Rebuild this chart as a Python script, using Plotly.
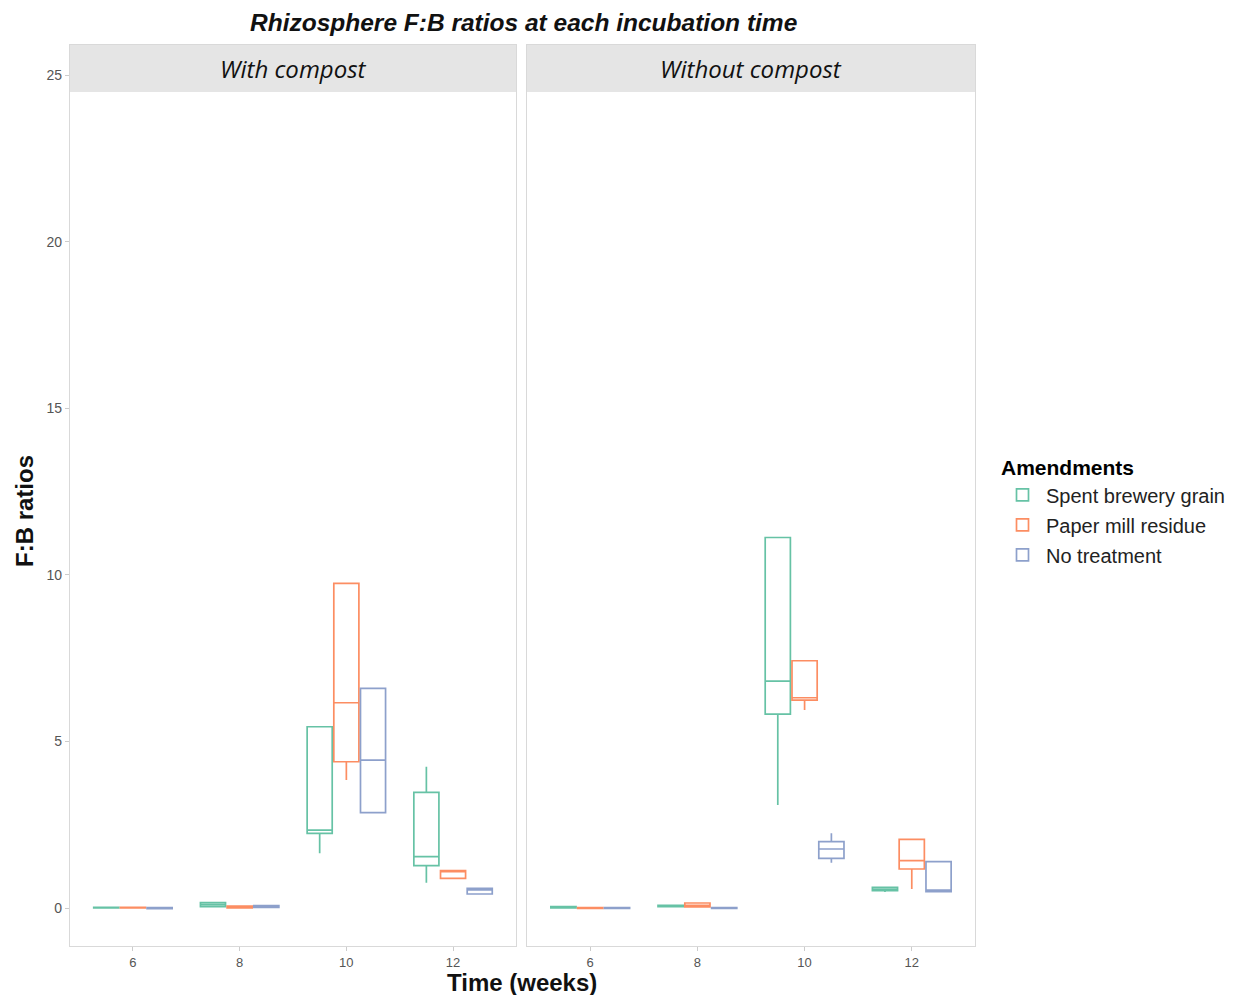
import plotly.graph_objects as go
from plotly.subplots import make_subplots

W, H = 1230, 987
OFF = 8  # page body margin

times = [6, 8, 10, 12]
facets = ["With compost", "Without compost"]
amendments = ["Spent brewery grain", "Paper mill residue", "No treatment"]
colors = ["#66C2A5", "#FC8D62", "#8DA0CB"]

# With compost
wc_sbg_lo = [0.0, 0.04, 1.64, 0.76]
wc_sbg_q1 = [0.0, 0.04, 2.24, 1.27]
wc_sbg_med = [0.01, 0.10, 2.34, 1.54]
wc_sbg_q3 = [0.02, 0.16, 5.44, 3.47]
wc_sbg_hi = [0.02, 0.16, 5.44, 4.24]

wc_pmr_lo = [0.0, 0.0, 3.84, 0.87]
wc_pmr_q1 = [0.0, 0.0, 4.39, 0.89]
wc_pmr_med = [0.01, 0.03, 6.16, 1.09]
wc_pmr_q3 = [0.02, 0.06, 9.74, 1.12]
wc_pmr_hi = [0.02, 0.06, 9.74, 1.12]

wc_nt_lo = [-0.02, 0.02, 2.86, 0.42]
wc_nt_q1 = [-0.02, 0.02, 2.86, 0.42]
wc_nt_med = [0.0, 0.05, 4.44, 0.54]
wc_nt_q3 = [0.01, 0.07, 6.59, 0.59]
wc_nt_hi = [0.01, 0.07, 6.59, 0.59]

# Without compost
nc_sbg_lo = [0.0, 0.04, 3.09, 0.48]
nc_sbg_q1 = [0.0, 0.04, 5.82, 0.52]
nc_sbg_med = [0.02, 0.06, 6.81, 0.56]
nc_sbg_q3 = [0.04, 0.08, 11.12, 0.62]
nc_sbg_hi = [0.04, 0.08, 11.12, 0.62]

nc_pmr_lo = [-0.01, 0.03, 5.94, 0.57]
nc_pmr_q1 = [-0.01, 0.03, 6.24, 1.17]
nc_pmr_med = [0.0, 0.08, 6.31, 1.42]
nc_pmr_q3 = [0.01, 0.15, 7.42, 2.06]
nc_pmr_hi = [0.01, 0.15, 7.42, 2.06]

nc_nt_lo = [-0.01, -0.01, 1.36, 0.49]
nc_nt_q1 = [-0.01, -0.01, 1.49, 0.49]
nc_nt_med = [0.0, 0.0, 1.77, 0.54]
nc_nt_q3 = [0.01, 0.01, 1.99, 1.39]
nc_nt_hi = [0.01, 0.01, 2.24, 1.39]

data = {
    0: [(wc_sbg_lo, wc_sbg_q1, wc_sbg_med, wc_sbg_q3, wc_sbg_hi),
        (wc_pmr_lo, wc_pmr_q1, wc_pmr_med, wc_pmr_q3, wc_pmr_hi),
        (wc_nt_lo, wc_nt_q1, wc_nt_med, wc_nt_q3, wc_nt_hi)],
    1: [(nc_sbg_lo, nc_sbg_q1, nc_sbg_med, nc_sbg_q3, nc_sbg_hi),
        (nc_pmr_lo, nc_pmr_q1, nc_pmr_med, nc_pmr_q3, nc_pmr_hi),
        (nc_nt_lo, nc_nt_q1, nc_nt_med, nc_nt_q3, nc_nt_hi)],
}

y_ticks = [0, 5, 10, 15, 20, 25]
x_ticks = [6, 8, 10, 12]

fig = make_subplots(rows=1, cols=2, shared_yaxes=True)

for f in range(2):
    for a, name in enumerate(amendments):
        lo, q1, med, q3, hi = data[f][a]
        fig.add_trace(go.Box(
            x=times, q1=q1, median=med, q3=q3, lowerfence=lo, upperfence=hi,
            name=name, legendgroup=name, showlegend=(f == 0),
            offsetgroup=str(a), line=dict(color=colors[a], width=1.7),
            fillcolor="white", whiskerwidth=0, boxpoints=False,
            hoverinfo="skip",
        ), row=1, col=f + 1)

px_x = lambda p: (p - OFF) / W
px_y = lambda p: 1 - (p - OFF) / H

dom1 = [px_x(70), px_x(516)]
dom2 = [px_x(527), px_x(975)]
ydom = [px_y(946), px_y(45)]

axis_common = dict(showgrid=False, zeroline=False, showline=True, mirror=True,
                   linecolor="#D9D9D9", linewidth=1.3)

fig.update_layout(
    width=W, height=H,
    margin=dict(l=0, r=0, t=0, b=0, autoexpand=False),
    plot_bgcolor="white", paper_bgcolor="white",
    boxmode="group", boxgap=0.25, boxgroupgap=0.06,
    font=dict(family="Liberation Sans, Arial, sans-serif", color="#000000"),
    legend=dict(
        x=px_x(999), y=px_y(448), xanchor="left", yanchor="top",
        title=dict(text="<b>Amendments</b>", font=dict(size=21, color="#000")),
        font=dict(size=20, color="#222"), tracegroupgap=1, itemwidth=37,
        bgcolor="rgba(0,0,0,0)",
    ),
    xaxis=dict(domain=dom1, range=[4.82, 13.18], tickvals=x_ticks, ticks="outside",
               ticklen=4, tickcolor="#CCCCCC", tickfont=dict(size=13, color="#555"),
               **axis_common),
    xaxis2=dict(domain=dom2, range=[4.82, 13.18], tickvals=x_ticks, ticks="outside",
                ticklen=4, tickcolor="#CCCCCC", tickfont=dict(size=13, color="#555"),
                **axis_common),
    yaxis=dict(domain=ydom, range=[(908 - 946) / 33.32, (908 - 45) / 33.32],
               tickvals=y_ticks, ticks="outside", ticklen=4, tickcolor="#CCCCCC",
               tickfont=dict(size=14, color="#555"), **axis_common),
    yaxis2=dict(domain=ydom, matches="y", showticklabels=False, ticks="", **axis_common),
)

# strips
for d, label in zip([dom1, dom2], facets):
    fig.add_shape(type="rect", xref="paper", yref="paper",
                  x0=d[0], x1=d[1], y0=px_y(92), y1=px_y(45),
                  fillcolor="#E5E5E5", line=dict(width=0), layer="above")
    fig.add_annotation(xref="paper", yref="paper", x=(d[0] + d[1]) / 2, y=px_y(69),
                       text="<i>" + label + "</i>", showarrow=False,
                       font=dict(family="Open Sans, sans-serif", size=24, color="#111"),
                       xanchor="center", yanchor="middle")

fig.add_annotation(xref="paper", yref="paper", x=px_x(523), y=px_y(23),
                   text="<b><i>Rhizosphere F:B ratios at each incubation time</i></b>",
                   showarrow=False, font=dict(size=24.5, color="#111"),
                   xanchor="center", yanchor="middle")
fig.add_annotation(xref="paper", yref="paper", x=px_x(24), y=px_y(511),
                   text="<b>F:B ratios</b>", textangle=-90, showarrow=False,
                   font=dict(size=24, color="#111"), xanchor="center", yanchor="middle")
fig.add_annotation(xref="paper", yref="paper", x=px_x(522), y=px_y(982),
                   text="<b>Time (weeks)</b>", showarrow=False,
                   font=dict(size=24, color="#111"), xanchor="center", yanchor="middle")

fig.write_html("out.html")
